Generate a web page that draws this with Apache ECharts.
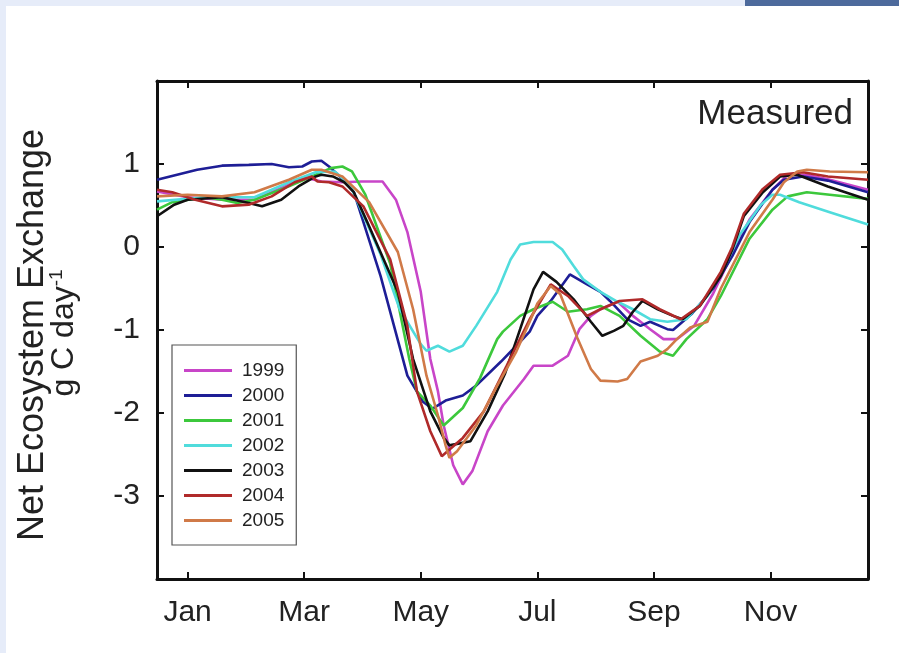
<!DOCTYPE html>
<html>
<head>
<meta charset="utf-8">
<script src="https://cdn.jsdelivr.net/npm/echarts/dist/echarts.min.js"></script>
<style>
html,body{margin:0;padding:0;background:#fff;}
#c{width:899px;height:653px;}
</style>
</head>
<body>
<div id="c"></div>
<script>
// ---- data (x = day position on the axis, y = g C day^-1) ----
var years = ['1999','2000','2001','2002','2003','2004','2005'];
var monthLabels = ['Jan','Mar','May','Jul','Sep','Nov'];
var monthTicks = [16, 77, 138, 199, 260, 321];
var yTicks = [-3, -2, -1, 0, 1];

var s1999 = [[0,0.67],[16,0.6],[34,0.57],[51,0.57],[69,0.75],[77,0.84],[86,0.79],[97,0.78],[107,0.79],[118,0.79],[125,0.57],[131,0.18],[138,-0.54],[143,-1.35],[147,-1.74],[150,-2.15],[155,-2.63],[160,-2.86],[165,-2.7],[173,-2.22],[181,-1.91],[192,-1.59],[197,-1.43],[207,-1.43],[215,-1.31],[221,-0.99],[227,-0.83],[232,-0.75],[241,-0.66],[249,-0.83],[258,-0.99],[265,-1.11],[272,-1.11],[281,-0.95],[291,-0.56],[301,-0.08],[310,0.33],[322,0.69],[330,0.87],[340,0.87],[352,0.81],[372,0.69]];
var s2000 = [[0,0.81],[21,0.93],[34,0.98],[48,0.99],[60,1.0],[69,0.96],[76,0.97],[81,1.03],[86,1.04],[90,0.97],[98,0.8],[103,0.66],[117,-0.35],[131,-1.55],[139,-1.86],[144,-1.95],[151,-1.85],[160,-1.79],[167,-1.67],[180,-1.38],[188,-1.19],[195,-1.02],[199,-0.83],[206,-0.65],[216,-0.33],[225,-0.45],[232,-0.54],[237,-0.65],[246,-0.87],[253,-0.95],[258,-0.9],[267,-0.99],[270,-1.0],[275,-0.9],[280,-0.8],[291,-0.5],[301,-0.11],[310,0.3],[322,0.69],[328,0.81],[338,0.85],[351,0.8],[372,0.66]];
var s2001 = [[0,0.45],[8,0.54],[25,0.6],[34,0.57],[42,0.53],[51,0.57],[69,0.73],[83,0.87],[91,0.95],[97,0.97],[102,0.91],[109,0.63],[122,-0.2],[132,-1.35],[136,-1.74],[143,-1.91],[150,-2.15],[160,-1.94],[169,-1.58],[178,-1.11],[181,-1.02],[190,-0.83],[197,-0.75],[207,-0.66],[215,-0.78],[225,-0.75],[232,-0.71],[242,-0.83],[253,-1.07],[263,-1.26],[270,-1.31],[277,-1.11],[288,-0.87],[295,-0.59],[310,0.1],[322,0.45],[330,0.61],[340,0.66],[352,0.63],[372,0.58]];
var s2002 = [[0,0.55],[25,0.6],[51,0.6],[69,0.78],[83,0.9],[93,0.91],[101,0.75],[109,0.33],[117,-0.09],[127,-0.75],[138,-1.17],[141,-1.25],[147,-1.19],[153,-1.26],[160,-1.19],[167,-0.95],[178,-0.54],[185,-0.15],[190,0.03],[197,0.06],[207,0.06],[212,-0.03],[218,-0.23],[223,-0.39],[232,-0.54],[241,-0.66],[249,-0.75],[258,-0.87],[267,-0.9],[277,-0.87],[288,-0.59],[295,-0.33],[305,0.15],[316,0.51],[322,0.63],[326,0.63],[336,0.54],[352,0.42],[372,0.27]];
var s2003 = [[0,0.37],[9,0.51],[16,0.57],[34,0.6],[48,0.53],[55,0.49],[65,0.57],[74,0.73],[83,0.85],[86,0.87],[92,0.85],[98,0.78],[103,0.66],[110,0.3],[126,-0.54],[134,-1.35],[143,-1.98],[150,-2.3],[153,-2.39],[164,-2.34],[173,-1.98],[182,-1.53],[190,-0.99],[197,-0.51],[202,-0.3],[209,-0.42],[218,-0.63],[227,-0.9],[233,-1.07],[239,-1.01],[244,-0.95],[249,-0.78],[254,-0.65],[262,-0.75],[270,-0.83],[275,-0.87],[284,-0.71],[295,-0.35],[301,-0.03],[307,0.37],[317,0.66],[326,0.85],[335,0.87],[351,0.73],[372,0.57]];
var s2004 = [[0,0.69],[8,0.66],[20,0.57],[34,0.49],[48,0.51],[60,0.61],[72,0.78],[81,0.85],[84,0.79],[90,0.78],[97,0.73],[108,0.49],[122,-0.15],[131,-0.95],[136,-1.74],[143,-2.22],[149,-2.52],[152,-2.46],[160,-2.3],[171,-1.98],[183,-1.43],[195,-0.87],[206,-0.45],[215,-0.59],[225,-0.83],[232,-0.75],[242,-0.65],[254,-0.63],[263,-0.75],[274,-0.87],[284,-0.71],[295,-0.3],[301,0.0],[307,0.4],[317,0.7],[326,0.87],[338,0.9],[351,0.85],[372,0.81]];
var s2005 = [[0,0.61],[16,0.63],[34,0.61],[51,0.66],[69,0.81],[81,0.93],[86,0.93],[97,0.85],[111,0.54],[126,-0.06],[134,-0.75],[141,-1.55],[147,-2.03],[151,-2.39],[153,-2.54],[157,-2.46],[167,-2.15],[178,-1.67],[188,-1.26],[195,-0.9],[199,-0.68],[206,-0.47],[211,-0.57],[220,-1.1],[227,-1.47],[232,-1.61],[241,-1.62],[246,-1.59],[253,-1.38],[262,-1.31],[267,-1.23],[272,-1.11],[279,-0.97],[288,-0.9],[295,-0.5],[310,0.18],[322,0.57],[328,0.78],[335,0.91],[340,0.93],[352,0.91],[372,0.9]];

var seriesData = [s1999, s2000, s2001, s2002, s2003, s2004, s2005];
var colors = ['#c845c8', '#1e1e96', '#3cc83c', '#50dcdc', '#111111', '#b02a2a', '#d07a48'];

var chart = echarts.init(document.getElementById('c'), null, {renderer: 'canvas'});
var txt = '#222';
var font = 'Liberation Sans, Arial, sans-serif';

var axisCommonX = {
  type: 'value', min: 0, max: 372,
  axisLine: {show: true, onZero: false, lineStyle: {color: '#111', width: 3}},
  axisTick: {show: true, inside: true, length: 7, lineStyle: {color: '#111', width: 2}, customValues: monthTicks},
  splitLine: {show: false}
};
var axisCommonY = {
  type: 'value', min: -4, max: 2, interval: 1,
  axisLine: {show: true, onZero: false, lineStyle: {color: '#111', width: 3}},
  axisTick: {show: true, inside: true, length: 7, lineStyle: {color: '#111', width: 2}, customValues: yTicks},
  splitLine: {show: false}
};

var option = {
  backgroundColor: '#ffffff',
  animation: false,
  color: colors,
  grid: {left: 157, right: 31, top: 81, bottom: 74, containLabel: false},
  title: {
    text: 'Measured', right: 46, top: 97, padding: 0,
    textStyle: {fontFamily: font, fontSize: 35, fontWeight: 'normal', color: txt}
  },
  legend: {
    orient: 'vertical', left: 172, top: 345,
    data: years,
    icon: 'rect', itemWidth: 48, itemHeight: 3, itemGap: 6,
    padding: [16, 12, 15, 12],
    borderColor: '#555', borderWidth: 1.2, backgroundColor: '#fff',
    textStyle: {fontFamily: font, fontSize: 19, lineHeight: 19, color: txt, padding: [0, 0, 0, 5]}
  },
  xAxis: [
    Object.assign({}, axisCommonX, {
      position: 'bottom',
      axisLabel: {show: true, customValues: monthTicks, margin: 19, fontFamily: font, fontSize: 30, color: txt,
        formatter: function (v) { var i = monthTicks.indexOf(v); return i >= 0 ? monthLabels[i] : ''; }}
    }),
    Object.assign({}, axisCommonX, {position: 'top', axisLabel: {show: false}})
  ],
  yAxis: [
    Object.assign({}, axisCommonY, {
      position: 'left',
      axisLabel: {show: true, customValues: yTicks, margin: 17, fontFamily: font, fontSize: 30, color: txt}
    }),
    Object.assign({}, axisCommonY, {position: 'right', axisLabel: {show: false}})
  ],
  series: years.map(function (y, i) {
    return {
      name: y, type: 'line', data: seriesData[i],
      xAxisIndex: 0, yAxisIndex: 0,
      showSymbol: false, symbol: 'none',
      lineStyle: {width: 2.6, color: colors[i]},
      itemStyle: {color: colors[i]}
    };
  }),
  graphic: [
    {type: 'rect', left: 0, top: 0, shape: {width: 899, height: 6}, style: {fill: '#e6ecf9'}, z: 100},
    {type: 'rect', left: 0, top: 0, shape: {width: 6, height: 653}, style: {fill: '#e6ecf9'}, z: 100},
    {type: 'rect', left: 745, top: 0, shape: {width: 154, height: 6}, style: {fill: '#4d6a9c'}, z: 101},
    {type: 'text', x: 33, y: 335, rotation: Math.PI / 2, z: 50,
      style: {text: 'Net Ecosystem Exchange', fontFamily: font, fontSize: 36, fill: txt, textAlign: 'center', textVerticalAlign: 'middle'}},
    {type: 'text', x: 64, y: 333, rotation: Math.PI / 2, z: 50,
      style: {text: 'g C day{sup|-1}', fontFamily: font, fontSize: 32, fill: txt, textAlign: 'center', textVerticalAlign: 'middle',
        rich: {sup: {fontFamily: font, fontSize: 19, fill: txt, verticalAlign: 'top', padding: [0, 0, 14, 0]}}}}
  ]
};
chart.setOption(option);
</script>
</body>
</html>
